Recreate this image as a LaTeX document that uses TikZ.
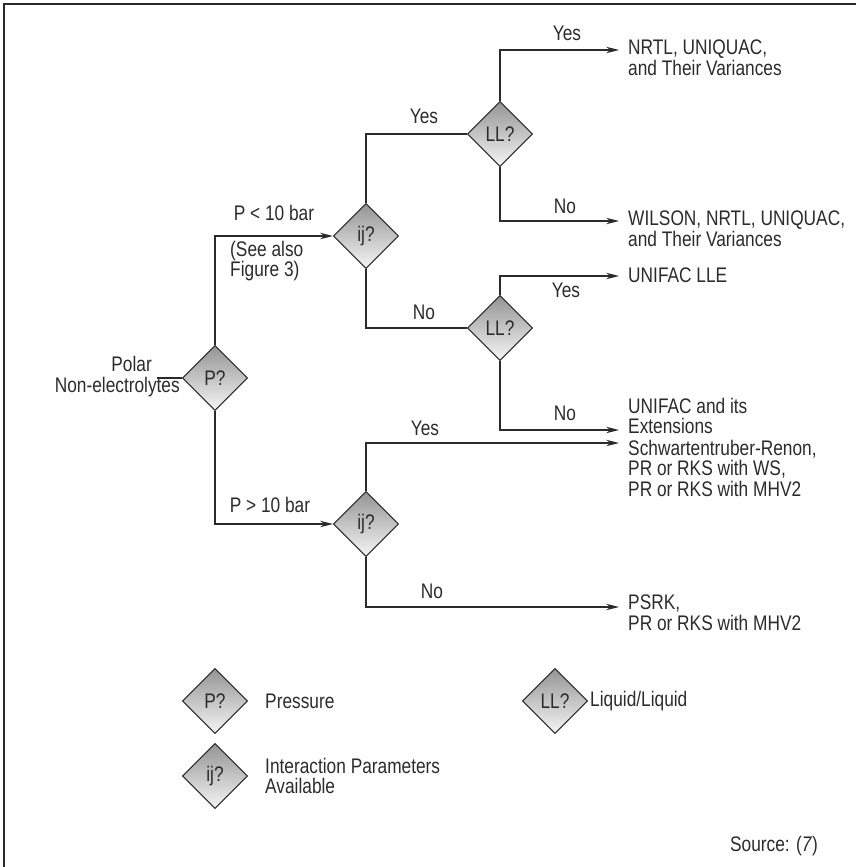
\documentclass[tikz,border=0pt]{standalone}
\usepackage{fontspec}
\setmainfont{Liberation Sans}[FakeStretch=0.82]
\usetikzlibrary{shapes.geometric,arrows.meta}
\definecolor{tinta}{HTML}{2B2B2B}
\newcommand{\letra}{\fontsize{18pt}{17.3pt}\selectfont}
\tikzset{
  decision/.style={diamond, draw=tinta, line width=0.9pt, top color=black!42, bottom color=black!4,
    inner sep=0pt, minimum width=1.95cm, minimum height=1.95cm, font=\letra, text=tinta},
  flujo/.style={draw=tinta, line width=1pt},
  flecha/.style={flujo, -{Stealth[length=11pt,width=5.5pt]}},
  etiqueta/.style={font=\letra, text=tinta, inner sep=0pt},
  salida/.style={etiqueta, anchor=north west, align=left},
}
\begin{document}
\begin{tikzpicture}[x=0.03cm, y=-0.03cm]
    \useasboundingbox (0,0) rectangle (856,867);
    % Marco
    \draw[line width=1.6pt, draw=tinta] (4,867) -- (4,4) -- (856,4);
    % Entrada
    \node[etiqueta, anchor=east] (polar) at (152,364) {Polar};
    \node[etiqueta, anchor=east] (noelec) at (180,387) {Non-electrolytes};
    \coordinate (cpolar) at (157,378);
    % Decisiones
    \node[decision] (p) at (215,378) {P?};
    \node[decision] (ij1) at (366,236) {ij?};
    \node[decision] (ll1) at (500,134) {LL?};
    \node[decision] (ll2) at (500,328) {LL?};
    \node[decision] (ij2) at (366,524) {ij?};
    % Puntas de las flechas de salida
    \coordinate (cnrtl) at (619,50);
    \coordinate (cwilson) at (619,221);
    \coordinate (clle) at (619,276);
    \coordinate (cunifac) at (619,430);
    \coordinate (cschw) at (619,443);
    \coordinate (cpsrk) at (619,607);
    % Resultados
    \node[salida] (nrtl) at (628,40) {NRTL, UNIQUAC,\\and Their Variances};
    \node[salida] (wilson) at (628,211) {WILSON, NRTL, UNIQUAC,\\and Their Variances};
    \node[salida] (lle) at (628,268) {UNIFAC LLE};
    \node[salida] (unifac) at (628,398) {UNIFAC and its\\Extensions};
    \node[salida] (schw) at (628,440) {Schwartentruber-Renon,\\PR or RKS with WS,\\PR or RKS with MHV2};
    \node[salida] (psrk) at (628,595) {PSRK,\\PR or RKS with MHV2};
    % Conectores
    \draw[flujo] (cpolar) -- (p.west);
    \draw[flecha] (p.north) |- (ij1.west);
    \draw[flecha] (p.south) |- (ij2.west);
    \draw[flujo] (ij1.north) |- (ll1.west);
    \draw[flujo] (ij1.south) |- (ll2.west);
    \draw[flecha] (ll1.north) |- (cnrtl);
    \draw[flecha] (ll1.south) |- (cwilson);
    \draw[flecha] (ll2.north) |- (clle);
    \draw[flecha] (ll2.south) |- (cunifac);
    \draw[flecha] (ij2.north) |- (cschw);
    \draw[flecha] (ij2.south) |- (cpsrk);
    % Etiquetas de los conectores
    \node[etiqueta] (si1) at (567,33) {Yes};
    \node[etiqueta] (si2) at (424,116) {Yes};
    \node[etiqueta] (no1) at (565,206) {No};
    \node[etiqueta] (menos) at (274,213) {P < 10 bar};
    \node[etiqueta, anchor=north west, align=left] (vease) at (230,241) {(See also\\Figure 3)};
    \node[etiqueta] (no2) at (424,312) {No};
    \node[etiqueta] (si3) at (566,290) {Yes};
    \node[etiqueta] (no3) at (565,413) {No};
    \node[etiqueta] (si4) at (425,428) {Yes};
    \node[etiqueta] (mas) at (270,505) {P > 10 bar};
    \node[etiqueta] (no4) at (432,591) {No};
    % Leyenda
    \node[decision] (lp) at (215,701) {P?};
    \node[etiqueta, anchor=west] (tpres) at (265,701) {Pressure};
    \node[decision] (lll) at (555,701) {LL?};
    \node[etiqueta, anchor=west] (tliq) at (590,701) {Liquid/Liquid};
    \node[decision] (lij) at (215,776) {ij?};
    \node[etiqueta, anchor=west, align=left] (tinter) at (265,776) {Interaction Parameters\\Available};
    % Fuente
    \node[etiqueta, anchor=east] (fuente) at (818,846) {Source: (\textit{7})};
\end{tikzpicture}
\end{document}
